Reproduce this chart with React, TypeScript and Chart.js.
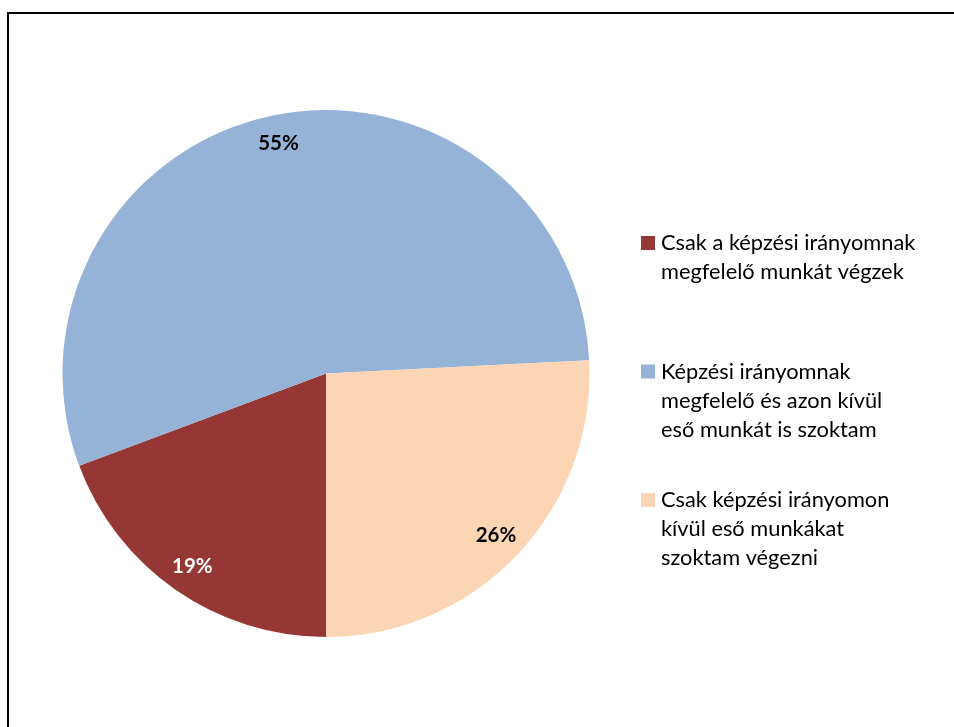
import { useEffect, useRef } from "react";
import { Chart, registerables } from "chart.js";

Chart.register(...registerables);

const categories = [
  "Csak a képzési irányomnak megfelelő munkát végzek",
  "Képzési irányomnak megfelelő és azon kívül eső munkát is szoktam",
  "Csak képzési irányomon kívül eső munkákat szoktam végezni",
];
const legendLines = [
  ["Csak a képzési irányomnak", "megfelelő munkát végzek"],
  ["Képzési irányomnak", "megfelelő és azon kívül", "eső munkát is szoktam"],
  ["Csak képzési irányomon", "kívül eső munkákat", "szoktam végezni"],
];
const shares = [19.3, 54.9, 25.8];
const percentLabels = ["19%", "55%", "26%"];
const colors = ["#953735", "#95B3D7", "#FCD5B5"];
const labelColors = ["#ffffff", "#000000", "#000000"];

const FONT = "Lato, 'Open Sans', 'DejaVu Sans', sans-serif";

const framePlugin = {
  id: "frame",
  beforeDraw(chart: any) {
    const ctx = chart.ctx;
    ctx.save();
    ctx.fillStyle = "#ffffff";
    ctx.fillRect(0, 0, chart.width, chart.height);
    ctx.strokeStyle = "#000000";
    ctx.lineWidth = 2;
    ctx.strokeRect(8, 13, chart.width + 20, chart.height + 20);
    ctx.restore();
  },
};

const labelPlugin = {
  id: "pctLabels",
  afterDatasetsDraw(chart: any) {
    const ctx = chart.ctx;
    const meta = chart.getDatasetMeta(0);
    ctx.save();
    ctx.font = `bold 20.5px ${FONT}`;
    ctx.textAlign = "center";
    ctx.textBaseline = "middle";
    meta.data.forEach((arc: any, i: number) => {
      const p = arc.getProps(["x", "y", "startAngle", "endAngle", "outerRadius"], true);
      const mid = (p.startAngle + p.endAngle) / 2;
      const r = p.outerRadius * 0.89;
      ctx.fillStyle = labelColors[i];
      ctx.fillText(percentLabels[i], p.x + Math.cos(mid) * r, p.y + Math.sin(mid) * r);
    });
    ctx.restore();
  },
};

const legendPlugin = {
  id: "sideLegend",
  afterDraw(chart: any) {
    const ctx = chart.ctx;
    ctx.save();
    ctx.font = `21.8px ${FONT}`;
    ctx.textAlign = "left";
    ctx.textBaseline = "alphabetic";
    const boxX = 641;
    const textX = 661;
    const firstBaseline = 250;
    const entryStep = 128.5;
    const lineStep = 29;
    legendLines.forEach((lines, i) => {
      const base = firstBaseline + i * entryStep;
      ctx.fillStyle = colors[i];
      ctx.fillRect(boxX, base - 14, 14, 14);
      ctx.fillStyle = "#000000";
      lines.forEach((line, j) => {
        ctx.fillText(line, textX, base + j * lineStep);
      });
    });
    ctx.restore();
  },
};

export default function App() {
  const ref = useRef<HTMLCanvasElement>(null);
  useEffect(() => {
    const chart = new Chart(ref.current!, {
      type: "pie",
      data: {
        labels: categories,
        datasets: [{ data: shares, backgroundColor: colors, borderWidth: 0 }],
      },
      options: {
        responsive: false,
        animation: false,
        rotation: 180,
        layout: { padding: { left: 62.5, right: 364.5, top: 110, bottom: 90 } },
        plugins: { legend: { display: false }, tooltip: { enabled: false } },
      },
      plugins: [framePlugin, labelPlugin, legendPlugin],
    } as any);
    return () => chart.destroy();
  }, []);
  return (
    <div
      style={{
        position: "fixed",
        left: 0,
        top: 0,
        width: 954,
        height: 727,
        overflow: "hidden",
        background: "#fff",
      }}
    >
      <canvas ref={ref} width={954} height={727} style={{ display: "block" }} />
    </div>
  );
}
